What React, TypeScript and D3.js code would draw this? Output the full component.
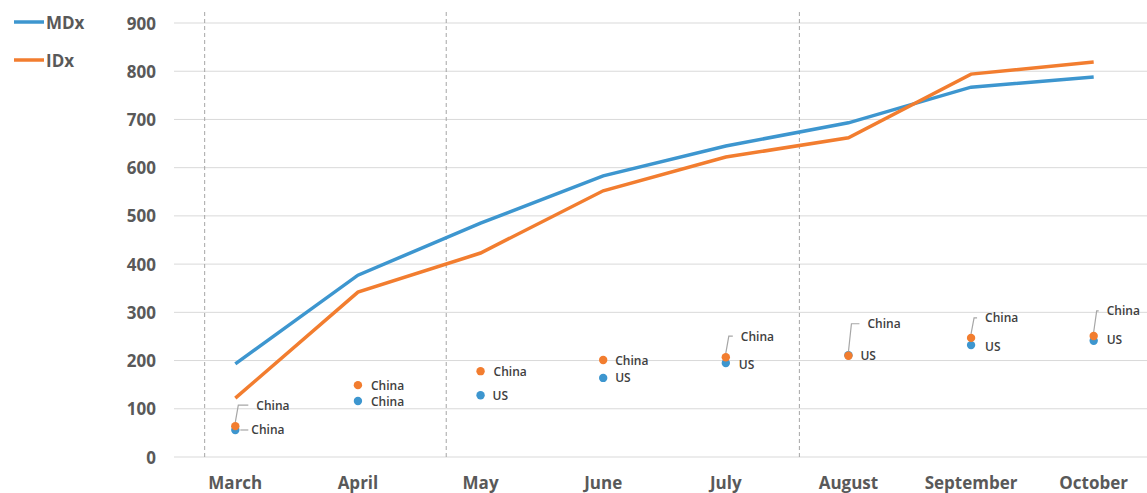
import { line, scaleLinear, scalePoint } from 'd3';
import React from 'react';

const months = ['March', 'April', 'May', 'June', 'July', 'August', 'September', 'October'];
const mdx = [193, 377, 485, 583, 645, 693, 767, 788];
const idx = [122, 342, 423, 552, 622, 662, 794, 819];
const chinaDots = [64, 149, 178, 201, 207, 210, 247, 251];
const usDots = [56, 116, 128, 164, 195, 211, 232, 241];
const chinaLabels = ['China', 'China', 'China', 'China', 'China', 'China', 'China', 'China'];
const usLabels = ['China', 'China', 'US', 'US', 'US', 'US', 'US', 'US'];
const yTicks = [0, 100, 200, 300, 400, 500, 600, 700, 800, 900];
// dashed dividers, in category units
const dividers = [-0.25, 1.72, 4.6];

// label placement relative to dot: [dx, dy, leader]
const chinaOffsets: [number, number, boolean][] = [
	[21, -21, true], [13, 0, false], [13, 0, false], [12, 0, false],
	[15, -21, true], [19, -32, true], [14, -20, true], [13, -25, true],
];
const usOffsets: [number, number, boolean][] = [
	[16, 0, true], [13, 0, false], [12, 0, false], [12, 0, false],
	[13, 2, false], [12, 0, false], [14, 1, false], [13, -1, false],
];

const width = 1147;
const height = 493;
const blue = '#3d96cf';
const orange = '#f27d2f';
const textColor = '#595959';
const font = "'Open Sans', 'Noto Sans', sans-serif";

const App = () => {
	const x = scalePoint<string>().domain(months).range([174, 1155]).padding(0.5);
	const y = scaleLinear().domain([0, 900]).range([457, 23]);
	const step = x.step();

	const path = line<number>()
		.x((_, i) => x(months[i]) as number)
		.y(d => y(d));

	const dots = (vals: number[], labels: string[], offs: [number, number, boolean][], color: string, key: string) =>
		vals.map((v, i) => {
			const cx = x(months[i]) as number;
			const cy = y(v);
			const [dx, dy, leader] = offs[i];
			const lx = cx + dx;
			const ly = cy + dy;
			return (
				<g key={key + i}>
					{leader && dy !== 0 && (
						<polyline
							points={`${cx},${cy - 4} ${cx + 3},${ly} ${lx - 8},${ly}`}
							fill="none"
							stroke="#a6a6a6"
							strokeWidth={1.2}
						/>
					)}
					{leader && dy === 0 && (
						<line x1={cx + 5} x2={lx - 3} y1={ly} y2={ly} stroke="#a6a6a6" strokeWidth={1.2} />
					)}
					<circle cx={cx} cy={cy} r={4.2} fill={color} />
					<text x={lx} y={ly} dominantBaseline="central" fontSize={12} fontWeight={600} fill="#404040">
						{labels[i]}
					</text>
				</g>
			);
		});

	return (
		<svg width={width} height={height} style={{ position: 'absolute', left: 0, top: 0, background: '#fff' }} fontFamily={font}>
			{yTicks.map(t => (
				<g key={t}>
					<line x1={174} x2={width} y1={y(t)} y2={y(t)} stroke="#d9d9d9" strokeWidth={1} />
					<text x={156} y={y(t)} textAnchor="end" dominantBaseline="central" fontSize={17} fontWeight={700} fill={textColor}>
						{t}
					</text>
				</g>
			))}
			{dividers.map(d => {
				const dxp = (x(months[0]) as number) + d * step;
				return <line key={d} x1={dxp} x2={dxp} y1={12} y2={457} stroke="#a6a6a6" strokeDasharray="4,3" strokeWidth={1} />;
			})}
			{months.map(m => (
				<text key={m} x={x(m)} y={482} textAnchor="middle" dominantBaseline="central" fontSize={17} fontWeight={700} fill={textColor}>
					{m}
				</text>
			))}
			<path d={path(mdx) || ''} fill="none" stroke={blue} strokeWidth={3.5} />
			<path d={path(idx) || ''} fill="none" stroke={orange} strokeWidth={3.5} />
			{dots(usDots, usLabels, usOffsets, blue, 'us')}
			{dots(chinaDots, chinaLabels, chinaOffsets, orange, 'cn')}
			<g>
				<line x1={14} x2={44} y1={22} y2={22} stroke={blue} strokeWidth={3.5} />
				<text x={46} y={22} dominantBaseline="central" fontSize={17} fontWeight={700} fill={textColor}>MDx</text>
				<line x1={14} x2={44} y1={60} y2={60} stroke={orange} strokeWidth={3.5} />
				<text x={46} y={60} dominantBaseline="central" fontSize={17} fontWeight={700} fill={textColor}>IDx</text>
			</g>
		</svg>
	);
};

export default App;
